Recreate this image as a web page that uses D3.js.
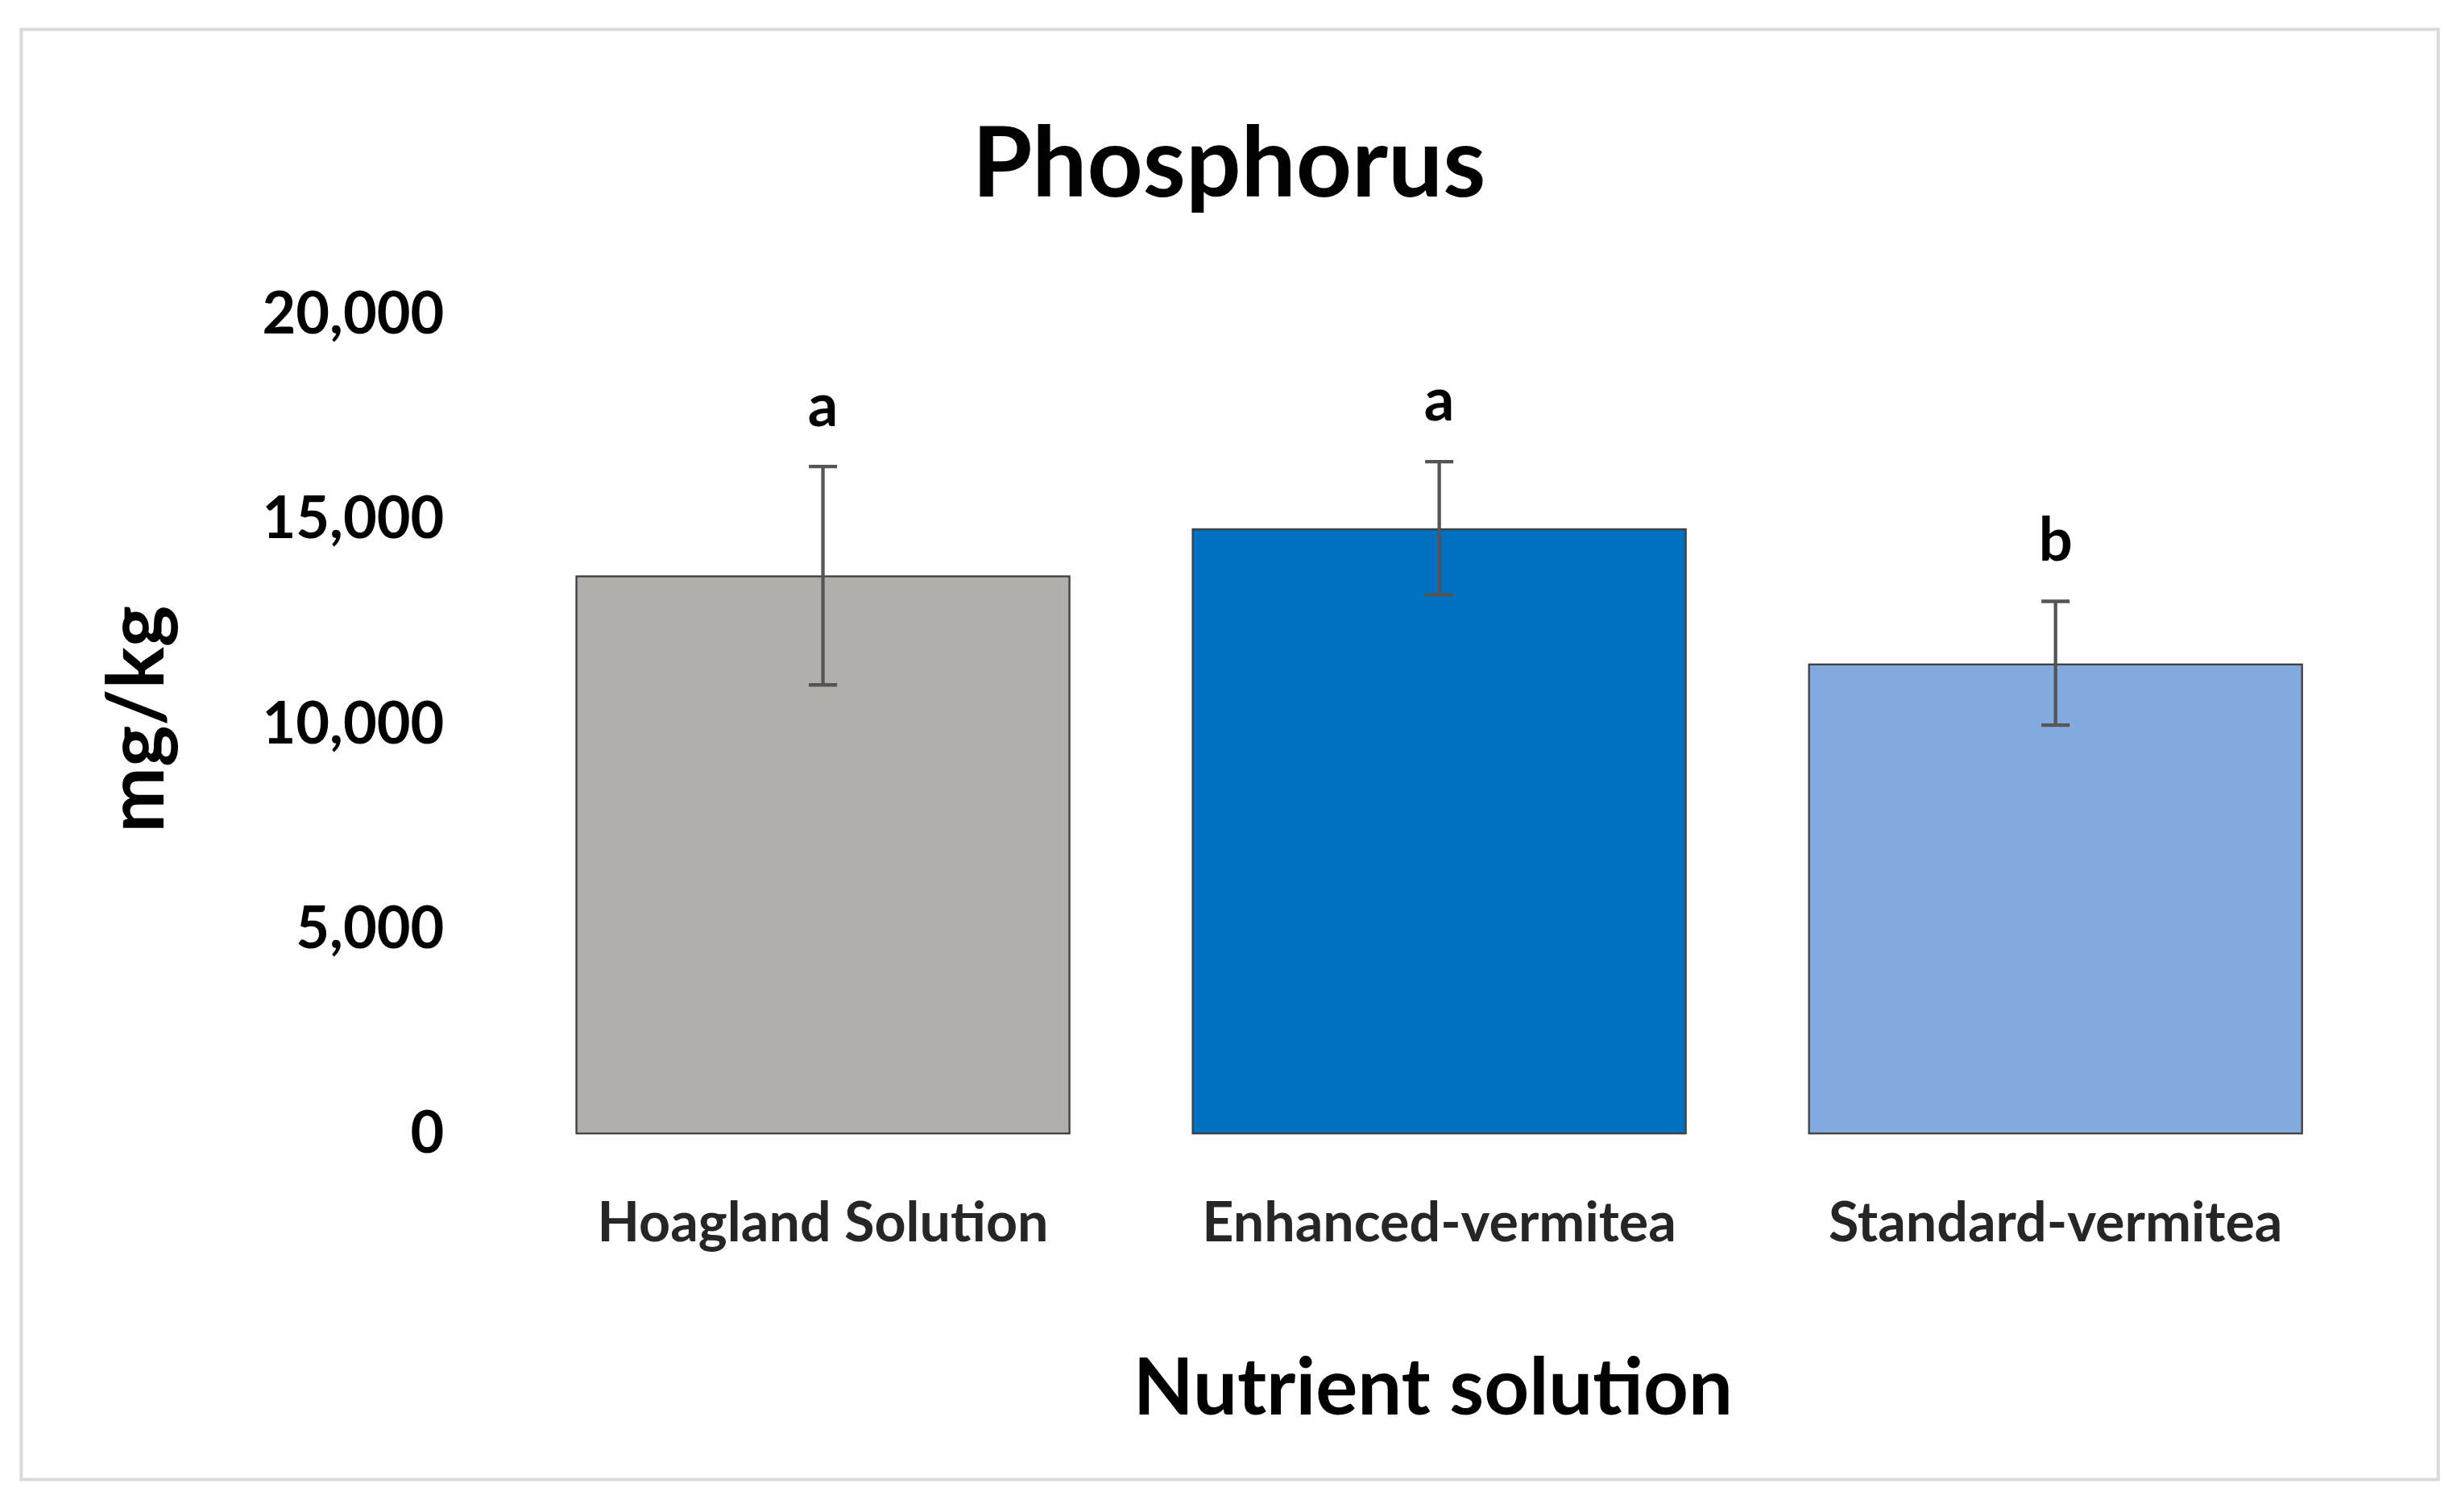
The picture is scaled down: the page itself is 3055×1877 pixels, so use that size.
<!DOCTYPE html>
<html>
<head>
<meta charset="utf-8">
<script src="https://cdn.jsdelivr.net/npm/d3@7"></script>
<style>
  body { margin: 0; background: #fff; }
  svg { display: block; }
  text { font-family: Lato, "Open Sans", sans-serif; font-weight: bold; fill: #000; }
</style>
</head>
<body>
<svg id="chart" width="3055" height="1877" viewBox="0 0 1568 963"></svg>
<script>
// data
var categories = ['Hoagland Solution', 'Enhanced-vermitea', 'Standard-vermitea']
var values = [13600, 14750, 11450]
var errLow = [10950, 13150, 9970]
var errHigh = [16280, 16400, 12990]
var letters = ['a', 'a', 'b']
var colors = ['#b2aeab', '#0070c0', '#82aade']
var yTicks = [0, 5000, 10000, 15000, 20000]

var svg = d3.select('#chart')

// outer frame
svg.append('rect').attr('x', 13.5).attr('y', 18.5).attr('width', 1540).attr('height', 924)
  .attr('fill', '#fff').attr('stroke', '#d9d9d9').attr('stroke-width', 2)

var x = d3.scaleBand().domain(categories).range([328, 1506]).paddingInner(0.2).paddingOuter(0.1)
var y = d3.scaleLinear().domain([0, 20000]).range([722, 200])

// y tick labels
var yAxis = svg.append('g').attr('transform', 'translate(283,0)')
  .call(d3.axisLeft(y).tickValues(yTicks).tickSize(0).tickPadding(0).tickFormat(d3.format(',')))
yAxis.select('.domain').remove()
yAxis.selectAll('text').style('font-size', '37px').style('font-family', 'Lato, sans-serif')
  .style('font-weight', 'bold').attr('fill', '#000')

// bars
svg.selectAll('rect.bar').data(categories).enter().append('rect')
  .attr('class', 'bar')
  .attr('x', d => x(d))
  .attr('width', x.bandwidth())
  .attr('y', (d, i) => y(values[i]))
  .attr('height', (d, i) => y(0) - y(values[i]))
  .attr('fill', (d, i) => colors[i])
  .attr('stroke', '#404040').attr('stroke-width', 1.2)

// error bars
var eb = svg.selectAll('g.err').data(categories).enter().append('g').attr('class', 'err')
  .attr('stroke', '#555').attr('stroke-width', 2.2)
eb.append('line')
  .attr('x1', d => x(d) + x.bandwidth() / 2).attr('x2', d => x(d) + x.bandwidth() / 2)
  .attr('y1', (d, i) => y(errLow[i])).attr('y2', (d, i) => y(errHigh[i]))
eb.append('line')
  .attr('x1', d => x(d) + x.bandwidth() / 2 - 9).attr('x2', d => x(d) + x.bandwidth() / 2 + 9)
  .attr('y1', (d, i) => y(errLow[i])).attr('y2', (d, i) => y(errLow[i]))
eb.append('line')
  .attr('x1', d => x(d) + x.bandwidth() / 2 - 9).attr('x2', d => x(d) + x.bandwidth() / 2 + 9)
  .attr('y1', (d, i) => y(errHigh[i])).attr('y2', (d, i) => y(errHigh[i]))

// significance letters
svg.selectAll('text.letter').data(categories).enter().append('text')
  .attr('x', d => x(d) + x.bandwidth() / 2)
  .attr('y', (d, i) => y(errHigh[i]) - 26)
  .attr('text-anchor', 'middle').style('font-size', '38px')
  .text((d, i) => letters[i])

// category labels
svg.selectAll('text.cat').data(categories).enter().append('text')
  .attr('x', d => x(d) + x.bandwidth() / 2)
  .attr('y', 791)
  .attr('text-anchor', 'middle').style('font-size', '35px').attr('fill', '#262626')
  .style('fill', '#262626')
  .text(d => d)

// title and axis titles
svg.append('text').attr('x', 783).attr('y', 125).attr('text-anchor', 'middle')
  .style('font-size', '62px').text('Phosphorus')
svg.append('text').attr('x', 913).attr('y', 901).attr('text-anchor', 'middle')
  .style('font-size', '50px').text('Nutrient solution')
svg.append('text').attr('transform', 'translate(104,458) rotate(-90)').attr('text-anchor', 'middle')
  .style('font-size', '50px').text('mg/kg')
</script>
</body>
</html>
